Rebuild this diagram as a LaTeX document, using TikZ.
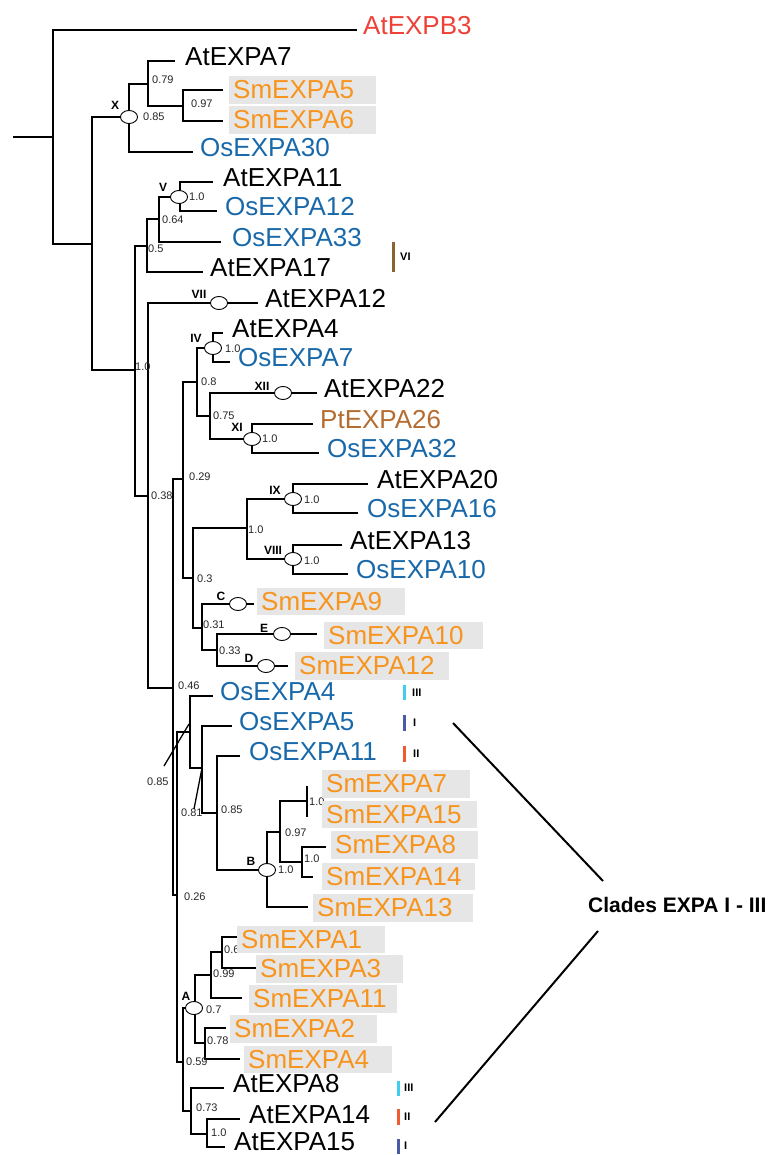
\documentclass[tikz,border=0pt]{standalone}
\usepackage{fontspec}
\setmainfont{Liberation Sans}
\usetikzlibrary{calc,shapes.geometric}
\definecolor{smorange}{RGB}{247,148,30}
\definecolor{osblue}{RGB}{25,105,170}
\definecolor{atred}{RGB}{238,64,54}
\definecolor{ptbrown}{RGB}{180,108,48}
\definecolor{vibrown}{RGB}{139,100,49}
\definecolor{cladecyan}{RGB}{64,205,240}
\definecolor{cladeindigo}{RGB}{74,91,166}
\definecolor{cladered}{RGB}{239,90,48}
\definecolor{boxgray}{RGB}{230,230,230}
\def\smleaf(#1)(#2,#3)#4#5{\node[smbox, text width=#4pt] (#1) at (#2,#3) {#5};}

\begin{document}
\begin{tikzpicture}[x=1pt, y=-1pt,
	br/.style={line width=2.1pt},
	clade/.style={ellipse, draw, fill=white, line width=0.9pt, minimum width=17pt, minimum height=13pt, inner sep=0pt},
	leaf/.style={anchor=west, inner sep=0pt, font=\fontsize{26}{26}\selectfont},
	smbox/.style={anchor=west, fill=boxgray, text=smorange, inner xsep=4pt, inner ysep=0pt, minimum height=27.5pt, align=left, font=\fontsize{26}{26}\selectfont},
	supp/.style={anchor=west, inner sep=0pt, text=black!85, font=\fontsize{11}{11}\selectfont},
	cname/.style={inner sep=0pt, font=\bfseries\fontsize{12}{12}\selectfont},
	bar/.style={line width=3pt},
	roman/.style={anchor=west, inner sep=0pt, font=\bfseries\fontsize{11}{11}\selectfont}]
			%%%%% START %%%%%
			\useasboundingbox (0,0) rectangle (771,1155);
			
			% inner nodes
			\coordinate (stub) at (13,137);
			\coordinate (r) at (53,137);
			\coordinate (n1) at (92,244);
			\coordinate (nX) at (129,117);
			\coordinate (n079) at (148,84);
			\coordinate (n097) at (183,106);
			\coordinate (n10) at (135,370);
			\coordinate (n05) at (147,246);
			\coordinate (n064) at (159,219);
			\coordinate (nV) at (180,197);
			\coordinate (n038) at (148,496);
			\coordinate (n046) at (173,688);
			\coordinate (n029) at (183,479);
			\coordinate (n08) at (197,382);
			\coordinate (nIV) at (213,348);
			\coordinate (n075) at (210,416);
			\coordinate (nXI) at (252,439);
			\coordinate (n03) at (193,578);
			\coordinate (n10b) at (247,528);
			\coordinate (nIX) at (293,499);
			\coordinate (nVIII) at (293,559);
			\coordinate (n031) at (202,628);
			\coordinate (n033) at (217,650);
			\coordinate (n026) at (177,895);
			\coordinate (n085) at (190,732);
			\coordinate (n081) at (202,768);
			\coordinate (n085b) at (217,813);
			\coordinate (nB) at (267,870);
			\coordinate (n097b) at (280,832);
			\coordinate (n10c) at (307,801);
			\coordinate (n10d) at (302,862);
			\coordinate (n059) at (183,1062);
			\coordinate (nA) at (195,1008);
			\coordinate (n099) at (211,975);
			\coordinate (n06) at (222,952);
			\coordinate (n078) at (205,1043);
			\coordinate (n073) at (191,1111);
			\coordinate (n10e) at (207,1134);
			
			% tips
			\coordinate (tB3) at (357,30);
			\coordinate (t7) at (175,61);
			\coordinate (tS5) at (223,90);
			\coordinate (tS6) at (223,121);
			\coordinate (t30) at (193,152);
			\coordinate (t11) at (213,182);
			\coordinate (t12) at (217,211);
			\coordinate (t33) at (221,242);
			\coordinate (t17) at (203,272);
			\coordinate (tA12) at (258,303);
			\coordinate (t4) at (223,333);
			\coordinate (tO7) at (230,362);
			\coordinate (t22) at (317,393);
			\coordinate (t26) at (313,424);
			\coordinate (t32) at (319,453);
			\coordinate (t20) at (368,484);
			\coordinate (t16) at (358,513);
			\coordinate (t13) at (342,545);
			\coordinate (t10) at (348,574);
			\coordinate (tS9) at (254,604);
			\coordinate (tS10) at (317,634);
			\coordinate (tS12) at (288,666);
			\coordinate (tO4) at (213,696);
			\coordinate (tO5) at (232,726);
			\coordinate (tO11) at (240,756);
			\coordinate (tS7) at (307,786);
			\coordinate (tS15) at (307,817);
			\coordinate (tS8) at (326,847);
			\coordinate (tS14) at (313,877);
			\coordinate (tS13) at (308,907);
			\coordinate (tS1) at (237,937);
			\coordinate (tS3) at (257,968);
			\coordinate (tS11) at (242,998);
			\coordinate (tS2) at (226,1028);
			\coordinate (tS4) at (240,1059);
			\coordinate (tA8) at (224,1088);
			\coordinate (tA14) at (240,1119);
			\coordinate (tA15) at (225,1147);
			
			% branches
			\draw[br] (stub) -- (r);
			\draw[br] (tB3) -| (r) |- (n1);
			\draw[br] (nX) -| (n1) |- (n10);
			\draw[br] (n079) -| (nX) |- (t30);
			\draw[br] (t7) -| (n079) |- (n097);
			\draw[br] (tS5) -| (n097) |- (tS6);
			\draw[br] (n05) -| (n10) |- (n038);
			\draw[br] (n064) -| (n05) |- (t17);
			\draw[br] (nV) -| (n064) |- (t33);
			\draw[br] (t11) -| (nV) |- (t12);
			\draw[br] (tA12) -| (n038) |- (n046);
			\draw[br] (n029) -| (n046) |- (n026);
			\draw[br] (n08) -| (n029) |- (n03);
			\draw[br] (nIV) -| (n08) |- (n075);
			\draw[br] (t4) -| (nIV) |- (tO7);
			\draw[br] (t22) -| (n075) |- (nXI);
			\draw[br] (t26) -| (nXI) |- (t32);
			\draw[br] (n10b) -| (n03) |- (n031);
			\draw[br] (nIX) -| (n10b) |- (nVIII);
			\draw[br] (t20) -| (nIX) |- (t16);
			\draw[br] (t13) -| (nVIII) |- (t10);
			\draw[br] (tS9) -| (n031) |- (n033);
			\draw[br] (tS10) -| (n033) |- (tS12);
			\draw[br] (n085) -| (n026) |- (n059);
			\draw[br] (tO4) -| (n085) |- (n081);
			\draw[br] (tO5) -| (n081) |- (n085b);
			\draw[br] (tO11) -| (n085b) |- (nB);
			\draw[br] (n097b) -| (nB) |- (tS13);
			\draw[br] (n10c) -| (n097b) |- (n10d);
			\draw[br] (tS7) -- (tS15);
			\draw[br] (tS8) -| (n10d) |- (tS14);
			\draw[br] (nA) -| (n059) |- (n073);
			\draw[br] (n099) -| (nA) |- (n078);
			\draw[br] (n06) -| (n099) |- (tS11);
			\draw[br] (tS1) -| (n06) |- (tS3);
			\draw[br] (tS2) -| (n078) |- (tS4);
			\draw[br] (tA8) -| (n073) |- (n10e);
			\draw[br] (tA14) -| (n10e) |- (tA15);
			
			% clade ellipses
			\node[clade] (eX) at (nX) {};
			\node[clade] (eV) at (179,197) {};
			\node[clade] (eVII) at (219,303) {};
			\node[clade] (eIV) at (213,348) {};
			\node[clade] (eXII) at (283,393) {};
			\node[clade] (eXI) at (nXI) {};
			\node[clade] (eIX) at (nIX) {};
			\node[clade] (eVIII) at (nVIII) {};
			\node[clade] (eC) at (238,604) {};
			\node[clade] (eE) at (282,634) {};
			\node[clade] (eD) at (266,666) {};
			\node[clade] (eB) at (nB) {};
			\node[clade] (eA) at (194,1008) {};
			
			\node[cname] (lX) at (115,105) {X};
			\node[cname] (lV) at (163,187) {V};
			\node[cname] (lVII) at (199,294) {VII};
			\node[cname] (lIV) at (196,338) {IV};
			\node[cname] (lXII) at (262,386) {XII};
			\node[cname] (lXI) at (237,427) {XI};
			\node[cname] (lIX) at (275,490) {IX};
			\node[cname] (lVIII) at (273,550) {VIII};
			\node[cname] (lC) at (221,596) {C};
			\node[cname] (lE) at (264,628) {E};
			\node[cname] (lD) at (249,658) {D};
			\node[cname] (lB) at (251,861) {B};
			\node[cname] (lA) at (186,996) {A};
			
			% support values
			\node[supp] (s1) at (152,80) {0.79};
			\node[supp] (s2) at (191,104) {0.97};
			\node[supp] (s3) at (143,117) {0.85};
			\node[supp] (s4) at (189,197) {1.0};
			\node[supp] (s5) at (162,220) {0.64};
			\node[supp] (s6) at (148,249) {0.5};
			\node[supp] (s7) at (135,367) {1.0};
			\node[supp] (s8) at (151,496) {0.38};
			\node[supp] (s9) at (225,349) {1.0};
			\node[supp] (s10) at (201,382) {0.8};
			\node[supp] (s11) at (213,416) {0.75};
			\node[supp] (s12) at (262,439) {1.0};
			\node[supp] (s13) at (189,477) {0.29};
			\node[supp] (s14) at (304,500) {1.0};
			\node[supp] (s15) at (248,530) {1.0};
			\node[supp] (s16) at (304,561) {1.0};
			\node[supp] (s17) at (197,579) {0.3};
			\node[supp] (s18) at (203,625) {0.31};
			\node[supp] (s19) at (219,651) {0.33};
			\node[supp] (s20) at (178,686) {0.46};
			\node[supp] (s21) at (147,782) {0.85};
			\node[supp] (s22) at (181,813) {0.81};
			\node[supp] (s23) at (221,810) {0.85};
			\node[supp] (s24) at (309,802) {1.0};
			\node[supp] (s25) at (285,833) {0.97};
			\node[supp] (s26) at (304,859) {1.0};
			\node[supp] (s27) at (278,870) {1.0};
			\node[supp] (s28) at (184,897) {0.26};
			\node[supp] (s29) at (224,950) {0.6};
			\node[supp] (s30) at (213,974) {0.99};
			\node[supp] (s31) at (206,1010) {0.7};
			\node[supp] (s32) at (207,1041) {0.78};
			\node[supp] (s33) at (186,1062) {0.59};
			\node[supp] (s34) at (196,1108) {0.73};
			\node[supp] (s35) at (211,1133) {1.0};
			
			% leaders to the two crowded values
			\coordinate (ld1) at (189,724);
			\coordinate (ld2) at (202,768);
			\draw[line width=1.3pt] (ld1) -- (164,766);
			\draw[line width=1.3pt] (ld2) -- (194,809);
			
			% leaves
			\node[leaf, text=atred] (AtEXPB3) at (363,25.5) {AtEXPB3};
			\node[leaf] (AtEXPA7) at (185,56.5) {AtEXPA7};
			\smleaf(SmEXPA5)(229,90){139}{SmEXPA5}
			\smleaf(SmEXPA6)(229,120){139}{SmEXPA6}
			\node[leaf, text=osblue] (OsEXPA30) at (200,147.5) {OsEXPA30};
			\node[leaf] (AtEXPA11) at (223,177.5) {AtEXPA11};
			\node[leaf, text=osblue] (OsEXPA12) at (225,206.5) {OsEXPA12};
			\node[leaf, text=osblue] (OsEXPA33) at (232,237.5) {OsEXPA33};
			\node[leaf] (AtEXPA17) at (210,267.5) {AtEXPA17};
			\node[leaf] (AtEXPA12) at (265,298.5) {AtEXPA12};
			\node[leaf] (AtEXPA4) at (232,328.5) {AtEXPA4};
			\node[leaf, text=osblue] (OsEXPA7) at (238,357.5) {OsEXPA7};
			\node[leaf] (AtEXPA22) at (324,388.5) {AtEXPA22};
			\node[leaf, text=ptbrown] (PtEXPA26) at (320,419.5) {PtEXPA26};
			\node[leaf, text=osblue] (OsEXPA32) at (327,448.5) {OsEXPA32};
			\node[leaf] (AtEXPA20) at (377,479.5) {AtEXPA20};
			\node[leaf, text=osblue] (OsEXPA16) at (367,508.5) {OsEXPA16};
			\node[leaf] (AtEXPA13) at (350,540.5) {AtEXPA13};
			\node[leaf, text=osblue] (OsEXPA10) at (356,569.5) {OsEXPA10};
			\smleaf(SmEXPA9)(257,601.5){140}{SmEXPA9}
			\smleaf(SmEXPA10)(324,635.5){151}{SmEXPA10}
			\smleaf(SmEXPA12)(295,666){146}{SmEXPA12}
			\node[leaf, text=osblue] (OsEXPA4) at (220,691.5) {OsEXPA4};
			\node[leaf, text=osblue] (OsEXPA5) at (239,721.5) {OsEXPA5};
			\node[leaf, text=osblue] (OsEXPA11) at (249,751.5) {OsEXPA11};
			\smleaf(SmEXPA7)(322,784){140}{SmEXPA7}
			\smleaf(SmEXPA15)(322,814.5){147}{SmEXPA15}
			\smleaf(SmEXPA8)(331,845){139}{SmEXPA8}
			\smleaf(SmEXPA14)(322,876.5){145}{SmEXPA14}
			\smleaf(SmEXPA13)(313,908){152}{SmEXPA13}
			\smleaf(SmEXPA1)(237,939.5){140}{SmEXPA1}
			\smleaf(SmEXPA3)(256,969){139}{SmEXPA3}
			\smleaf(SmEXPA11)(249,999){140}{SmEXPA11}
			\smleaf(SmEXPA2)(230,1029){139}{SmEXPA2}
			\smleaf(SmEXPA4)(244,1059.5){140}{SmEXPA4}
			\node[leaf] (AtEXPA8) at (233,1083.5) {AtEXPA8};
			\node[leaf] (AtEXPA14) at (249,1114.5) {AtEXPA14};
			\node[leaf] (AtEXPA15) at (234,1142) {AtEXPA15};
			
			% clade bars
			\draw[bar, vibrown] (393,242) -- (393,272);
			\node[roman] (rVI) at (400,257) {VI};
			\draw[bar, cladecyan] (404,685) -- (404,700);
			\node[roman] (rO4) at (412,693) {III};
			\draw[bar, cladeindigo] (404,715) -- (404,731);
			\node[roman] (rO5) at (413,723) {I};
			\draw[bar, cladered] (404,746) -- (404,762);
			\node[roman] (rO11) at (413,754) {II};
			\draw[bar, cladecyan] (398,1081) -- (398,1096);
			\node[roman] (rA8) at (404,1088) {III};
			\draw[bar, cladered] (398,1109) -- (398,1125);
			\node[roman] (rA14) at (404,1117) {II};
			\draw[bar, cladeindigo] (398,1139) -- (398,1154);
			\node[roman] (rA15) at (404,1146) {I};
			
			\node[anchor=west, inner sep=0pt, font=\bfseries\fontsize{21}{21}\selectfont] (clades) at (588,905) {Clades EXPA I - III};
			\coordinate (cup) at (453,723);
			\coordinate (cupend) at (603,881);
			\coordinate (clow) at (598,931);
			\coordinate (clowend) at (435,1122);
			\draw[line width=2pt] (cup) -- (cupend);
			\draw[line width=2pt] (clow) -- (clowend);
			
			%%%%% END %%%%%
\end{tikzpicture}
\end{document}
